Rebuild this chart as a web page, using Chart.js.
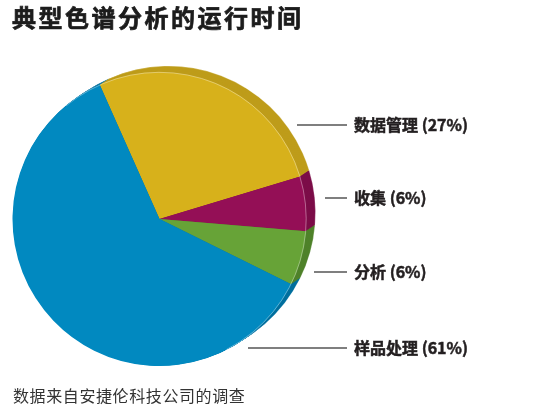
<!DOCTYPE html>
<html>
<head>
<meta charset="utf-8">
<script src="https://cdn.jsdelivr.net/npm/chart.js@4.4.1/dist/chart.umd.min.js"></script>
<style>
  html, body { margin: 0; padding: 0; background: #fff; }
  #wrap { position: relative; width: 535px; height: 420px; overflow: hidden; }
  #pie { position: absolute; left: 0; top: 0; }
  #title {
    position: absolute; left: 12px; top: 2px;
    font: bold 24px "Noto Sans CJK SC", sans-serif;
    -webkit-text-stroke: 0.7px #1c1c1c;
    letter-spacing: 2.5px; color: #1c1c1c; line-height: 30px; white-space: nowrap;
  }
  #note {
    position: absolute; left: 13px; top: 383px;
    font: 16px "Noto Sans CJK SC", sans-serif;
    letter-spacing: 0.6px; color: #333; line-height: 24px; white-space: nowrap;
  }
</style>
</head>
<body>
<div id="wrap">
  <canvas id="pie" width="535" height="420"></canvas>
  <div id="title">典型色谱分析的运行时间</div>
  <div id="note">数据来自安捷伦科技公司的调查</div>
</div>
<script>
// Share of run time per stage, clockwise from the top-left
const categories = ['数据管理', '收集', '分析', '样品处理'];
const shares = [27, 6, 6, 61];

const faceColors = ['#D7B11B', '#940F56', '#67A337', '#0189C0'];
const rimColors  = ['#BE9C1A', '#7C0D48', '#4F822A', '#01709E'];

// Label rows on the right: vertical position and where the leader line starts
const labelRows = [
  { y: 125, lineFrom: 297 },
  { y: 198, lineFrom: 325 },
  { y: 272, lineFrom: 314 },
  { y: 348, lineFrom: 248 }
];
const LINE_TO = 347;
const TEXT_X = 354;

// Side wall of the disc: the slices swept up and to the right
const DEPTH_X = 9, DEPTH_Y = -6, DEPTH_STEPS = 12;

const rimPlugin = {
  id: 'rim',
  beforeDatasetsDraw(chart) {
    const ctx = chart.ctx;
    const arcs = chart.getDatasetMeta(0).data;
    ctx.save();
    for (let s = DEPTH_STEPS; s >= 1; s--) {
      const ox = DEPTH_X * s / DEPTH_STEPS, oy = DEPTH_Y * s / DEPTH_STEPS;
      arcs.forEach((el, i) => {
        const p = el.getProps(['x', 'y', 'startAngle', 'endAngle', 'outerRadius'], true);
        ctx.beginPath();
        ctx.moveTo(p.x + ox, p.y + oy);
        ctx.arc(p.x + ox, p.y + oy, p.outerRadius, p.startAngle, p.endAngle);
        ctx.closePath();
        ctx.fillStyle = rimColors[i];
        ctx.fill();
      });
    }
    // faint seams on the wall
    arcs.forEach((el) => {
      const p = el.getProps(['x', 'y', 'startAngle', 'endAngle', 'outerRadius'], true);
      ctx.strokeStyle = 'rgba(255,255,255,0.35)';
      ctx.lineWidth = 0.8;
      ctx.beginPath();
      ctx.arc(p.x + DEPTH_X, p.y + DEPTH_Y, p.outerRadius, p.startAngle, p.endAngle);
      ctx.stroke();
    });
    ctx.restore();
  },
  afterDatasetsDraw(chart) {
    const ctx = chart.ctx;
    const el = chart.getDatasetMeta(0).data[0];
    const p = el.getProps(['x', 'y', 'outerRadius'], true);
    ctx.save();
    ctx.strokeStyle = 'rgba(255,255,255,0.45)';
    ctx.lineWidth = 0.8;
    ctx.beginPath();
    ctx.arc(p.x, p.y, p.outerRadius - 0.3, -Math.PI * 0.72, Math.PI * 0.35);
    ctx.stroke();
    ctx.restore();
  }
};

const labelPlugin = {
  id: 'sideLabels',
  afterDraw(chart) {
    const ctx = chart.ctx;
    ctx.save();
    ctx.font = 'bold 16px "Noto Sans CJK SC", sans-serif';
    ctx.textBaseline = 'middle';
    ctx.textAlign = 'left';
    labelRows.forEach((row, i) => {
      ctx.strokeStyle = '#555';
      ctx.lineWidth = 1.5;
      ctx.beginPath();
      ctx.moveTo(row.lineFrom, row.y);
      ctx.lineTo(LINE_TO, row.y);
      ctx.stroke();
      const text = categories[i] + ' (' + shares[i] + '%)';
      ctx.fillStyle = '#231F20';
      ctx.strokeStyle = '#231F20';
      ctx.lineWidth = 0.5;
      ctx.fillText(text, TEXT_X, row.y);
      ctx.strokeText(text, TEXT_X, row.y);
    });
    ctx.restore();
  }
};

new Chart(document.getElementById('pie'), {
  type: 'pie',
  data: {
    labels: categories,
    datasets: [{
      data: shares,
      backgroundColor: faceColors,
      borderWidth: 0,
      hoverOffset: 0
    }]
  },
  options: {
    responsive: false,
    devicePixelRatio: 1,
    animation: false,
    rotation: -24,
    layout: { padding: { left: 12, top: 72, right: 228, bottom: 54 } },
    plugins: {
      legend: { display: false },
      tooltip: { enabled: false },
      title: { display: false }
    }
  },
  plugins: [rimPlugin, labelPlugin]
});
</script>
</body>
</html>
